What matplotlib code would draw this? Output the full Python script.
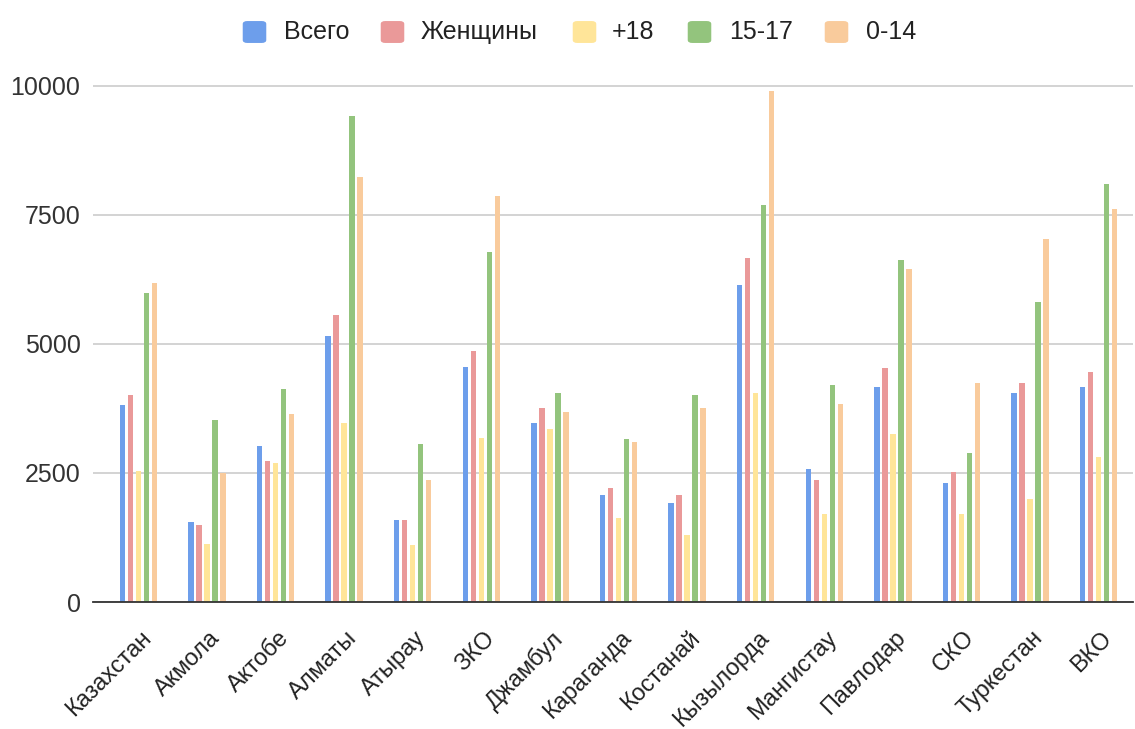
import matplotlib
matplotlib.use("Agg")
import matplotlib.pyplot as plt
import matplotlib.transforms as mtransforms
from matplotlib.patches import FancyBboxPatch
import numpy as np

regions = ["Казахстан", "Акмола", "Актобе", "Алматы", "Атырау", "ЗКО", "Джамбул",
           "Караганда", "Костанай", "Кызылорда", "Мангистау", "Павлодар", "СКО",
           "Туркестан", "ВКО"]

series_names = ["Всего", "Женщины", "+18", "15-17", "0-14"]

total = [3810, 1545, 3020, 5150, 1580, 4550, 3470, 2080, 1915, 6140, 2570, 4160, 2315, 4045, 4160]
women = [4010, 1500, 2740, 5560, 1580, 4870, 3755, 2205, 2075, 6665, 2370, 4535, 2515, 4250, 4450]
adult = [2535, 1130, 2690, 3470, 1095, 3180, 3350, 1625, 1305, 4045, 1705, 3260, 1705, 1995, 2810]
teen = [5990, 3520, 4130, 9420, 3060, 6790, 4045, 3155, 4005, 7695, 4200, 6625, 2890, 5805, 8090]
child = [6185, 2490, 3635, 8235, 2370, 7860, 3675, 3105, 3760, 9900, 3830, 6455, 4240, 7035, 7605]

colors = ["#6d9eeb", "#ea9999", "#ffe599", "#93c47d", "#f9cb9c"]

plt.rcParams['font.family'] = ['Liberation Sans', 'DejaVu Sans']

W, H = 1135, 729
fig = plt.figure(figsize=(W / 100, H / 100), dpi=100)
ax = fig.add_axes([93 / W, 127 / H, 1040 / W, 542 / H])

x = np.arange(len(regions))
step = 0.1166
width = 0.08
data = [total, women, adult, teen, child]
for i, (vals, name, col) in enumerate(zip(data, series_names, colors)):
    ax.bar(x + (i - 2) * step, vals, width=width, color=col, label=name, zorder=3)

ax.set_xlim(-0.66, 14.5)
ax.set_ylim(0, 10500)
ax.set_yticks([0, 2500, 5000, 7500, 10000])
ax.yaxis.grid(True, color="#cccccc", linewidth=1.2, zorder=0)
ax.tick_params(axis='y', length=0, labelsize=18, colors="#333333", pad=9)
ax.set_xticks(x)
ax.set_xticklabels(regions, rotation=45, ha='right', va='top', rotation_mode='anchor',
                   fontsize=17, color="#222222")
ax.tick_params(axis='x', length=0, pad=18)
shift = mtransforms.ScaledTranslation(2 / 100, 0, fig.dpi_scale_trans)
for lbl in ax.get_xticklabels():
    lbl.set_transform(lbl.get_transform() + shift)
for s in ["top", "right", "left"]:
    ax.spines[s].set_visible(False)
ax.spines["bottom"].set_color("#333333")
ax.spines["bottom"].set_linewidth(1.3)
ax.spines["bottom"].set_zorder(4)

# legend row at the top: rounded swatch followed by its label
legend_marker_x = [243, 381, 573, 688, 825]
legend_text_x = [284, 421, 612, 729, 866]
legend_y = 32
sw = 23
for mx, tx, name, col in zip(legend_marker_x, legend_text_x, series_names, colors):
    patch = FancyBboxPatch(((mx + 2) / W, (H - legend_y - sw / 2 + 2) / H),
                           (sw - 4) / W, (sw - 4) / H,
                           boxstyle="round,pad=0.002,rounding_size=0.004",
                           transform=fig.transFigure, facecolor=col, edgecolor="none")
    fig.patches.append(patch)
    fig.text(tx / W, (H - legend_y) / H, name, fontsize=18, color="#222222",
             ha='left', va='center')

fig.savefig("out.png", dpi=100)
